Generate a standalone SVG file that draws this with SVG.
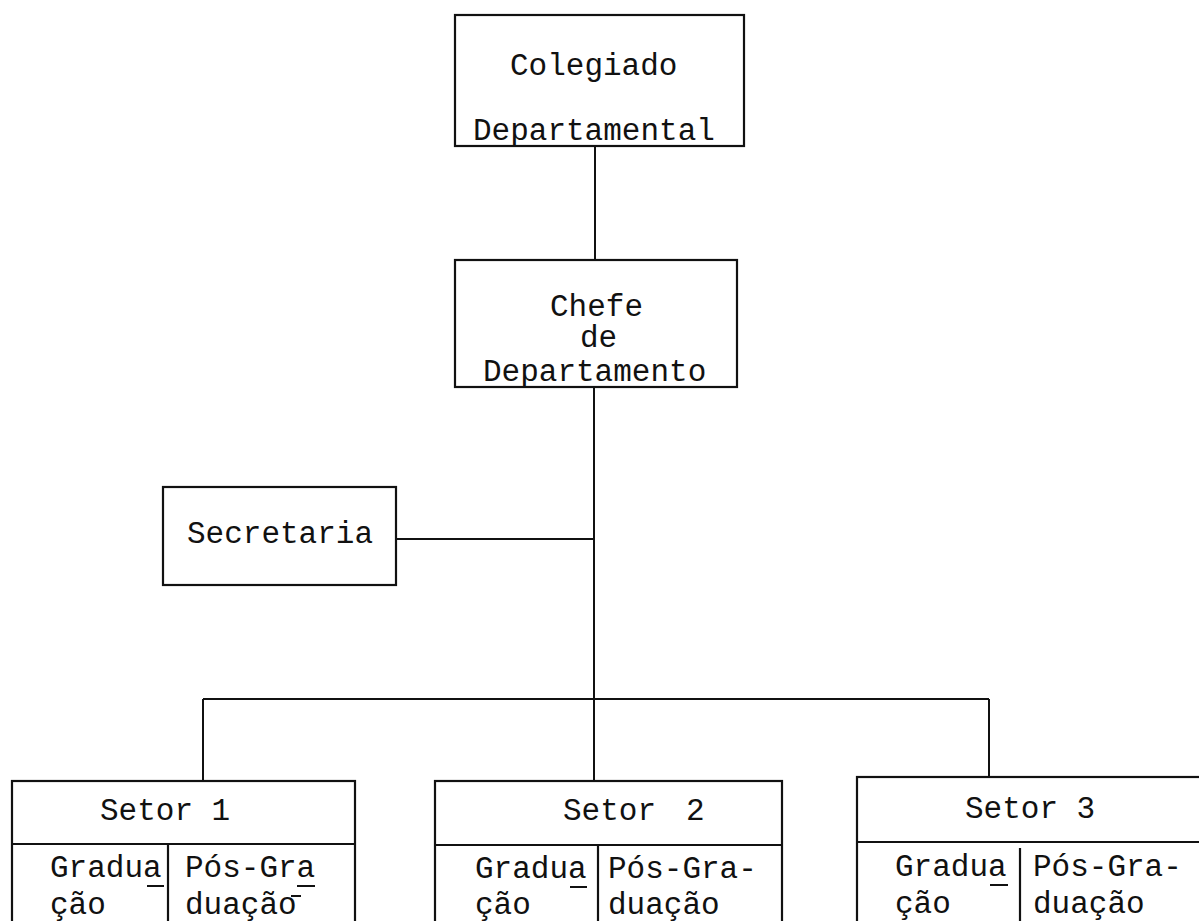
<svg xmlns="http://www.w3.org/2000/svg" width="1199" height="921" viewBox="0 0 1199 921">
<style>
.box{fill:none;stroke:#111;stroke-width:2.2}
.ln{fill:none;stroke:#111;stroke-width:2}
.mk{fill:none;stroke:#111;stroke-width:2}
text{font-family:"Liberation Mono","DejaVu Sans Mono",monospace;font-size:31px;fill:#111}
</style>
<rect width="1199" height="921" fill="#fff"/>
<g id="connectors">
<line class="ln" x1="595" y1="146" x2="595" y2="260"/>
<line class="ln" x1="594" y1="387" x2="594" y2="781"/>
<line class="ln" x1="396" y1="539" x2="594" y2="539"/>
<line class="ln" x1="203" y1="699" x2="989" y2="699"/>
<line class="ln" x1="203" y1="699" x2="203" y2="781"/>
<line class="ln" x1="989" y1="699" x2="989" y2="778"/>
</g>
<g id="colegiado">
<rect class="box" x="455" y="15" width="289" height="131"/>
<text x="510" y="75">Colegiado</text>
<text x="473" y="140">Departamental</text>
</g>
<g id="chefe">
<rect class="box" x="455" y="260" width="282" height="127"/>
<text x="550" y="316">Chefe</text>
<text x="580" y="347">de</text>
<text x="483" y="381">Departamento</text>
</g>
<g id="secretaria">
<rect class="box" x="163" y="487" width="233" height="98"/>
<text x="187" y="543">Secretaria</text>
</g>
<g id="setor1">
<rect class="box" x="12" y="781" width="343" height="160"/>
<line class="box" x1="12" y1="844" x2="355" y2="844"/>
<line class="box" x1="168" y1="844" x2="168" y2="941"/>
<text x="100" y="820">Setor 1</text>
<text x="50" y="877">Gradua</text>
<text x="50" y="914">ção</text>
<text x="185" y="877">Pós-Gra</text>
<text x="185" y="914">duação</text>
<line class="mk" x1="147" y1="886" x2="164" y2="886"/>
<line class="mk" x1="297" y1="886" x2="315" y2="886"/>
<line class="mk" x1="291" y1="896" x2="301" y2="896"/>
</g>
<g id="setor2">
<rect class="box" x="435" y="781" width="347" height="160"/>
<line class="box" x1="435" y1="845" x2="782" y2="845"/>
<line class="box" x1="598" y1="845" x2="598" y2="941"/>
<text x="563" y="820">Setor <tspan x="686">2</tspan></text>
<text x="475" y="878">Gradua</text>
<text x="475" y="914">ção</text>
<text x="608" y="878">Pós-Gra-</text>
<text x="608" y="914">duação</text>
<line class="mk" x1="570" y1="887" x2="587" y2="887"/>
</g>
<g id="setor3">
<rect class="box" x="857" y="777" width="360" height="164"/>
<line class="box" x1="857" y1="842" x2="1217" y2="842"/>
<line class="box" x1="1020" y1="848" x2="1020" y2="941"/>
<text x="965" y="818">Setor 3</text>
<text x="895" y="876">Gradua</text>
<text x="895" y="913">ção</text>
<text x="1033" y="876">Pós-Gra-</text>
<text x="1033" y="913">duação</text>
<line class="mk" x1="990" y1="885" x2="1008" y2="885"/>
</g>
</svg>
